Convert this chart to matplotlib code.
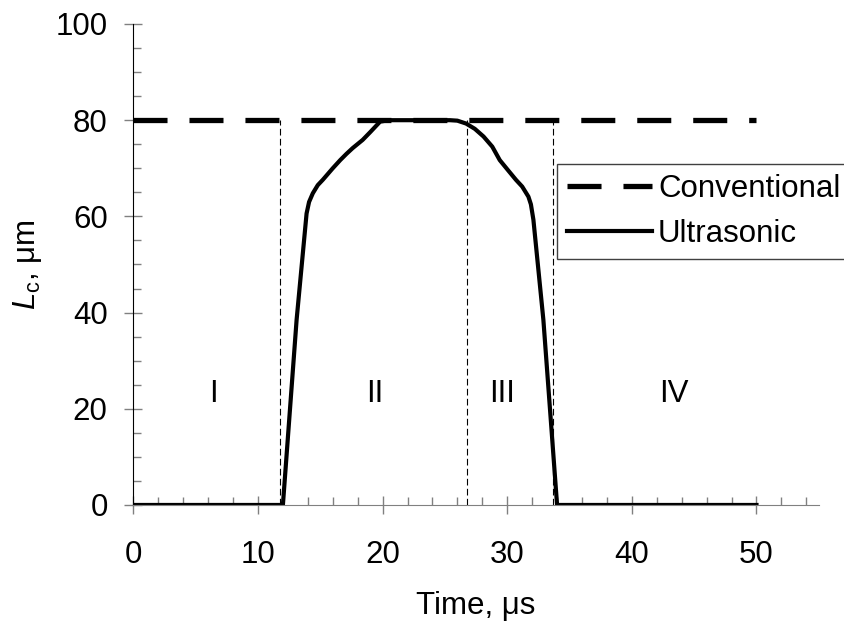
import matplotlib
matplotlib.use("Agg")
from matplotlib import pyplot as plt
from matplotlib.ticker import MultipleLocator

plt.rcParams['font.family'] = ['Liberation Sans', 'DejaVu Sans']
plt.rcParams['mathtext.fontset'] = 'custom'
plt.rcParams['mathtext.rm'] = 'Liberation Sans'
plt.rcParams['mathtext.it'] = 'Liberation Sans:italic'
plt.rcParams['lines.scale_dashes'] = False

# data
conv_t = [0, 50]
conv_l = [80, 80]

ultra_t = [0, 12.0, 13.1, 13.9, 14.1, 14.4, 14.8, 15.2, 16.0, 16.6, 17.1,
           17.6, 18.4, 19.0, 19.8, 20.5, 25.4, 26.0, 26.7, 27.4, 28.1,
           28.8, 29.4, 30.0, 30.7, 31.2, 31.7, 31.9, 32.1, 32.9, 34.0, 50]
ultra_l = [0, 0, 38.5, 60.6, 63.0, 64.8, 66.5, 67.6, 70.0, 71.7, 73.0,
           74.2, 75.9, 77.5, 79.7, 80, 80, 79.9, 79.3, 78.2, 76.6,
           74.5, 71.7, 69.8, 67.6, 66.2, 64.1, 62.5, 59.3, 38.5, 0, 0]

stage_bounds = [11.8, 26.8, 33.7]
stage_names = ["I", "II", "III", "IV"]
stage_x = [6.4, 19.4, 29.6, 43.4]
stage_y = 23

fs = 22.5
fig = plt.figure(figsize=(8.45, 6.28), dpi=100)
ax = fig.add_axes([0.1578, 0.1959, 0.969 - 0.1578, 0.9618 - 0.1959])

for xb in stage_bounds:
    ax.plot([xb, xb], [0, 80], color="k", lw=0.8, dashes=(4.8, 2.4))

ax.plot(conv_t, conv_l, color="k", lw=3.8, dashes=(24.5, 15.8),
        dash_capstyle="butt", label="Conventional")
ax.plot(ultra_t, ultra_l, color="k", lw=3.0, label="Ultrasonic",
        solid_joinstyle="round")

for name, xs in zip(stage_names, stage_x):
    ax.text(xs, stage_y, name, fontsize=fs, ha="center", va="center")

ax.set_xlim(0, 55)
ax.set_ylim(0, 100)
ax.xaxis.set_major_locator(MultipleLocator(10))
ax.xaxis.set_minor_locator(MultipleLocator(2))
ax.yaxis.set_major_locator(MultipleLocator(20))
ax.yaxis.set_minor_locator(MultipleLocator(5))
ax.tick_params(which="major", direction="inout", length=13, width=1,
               color="#808080", labelsize=fs)
ax.tick_params(which="minor", direction="in", length=6, width=1,
               color="#808080")
ax.tick_params(axis="x", which="major", pad=19)
ax.tick_params(axis="y", which="major", pad=12)

for s in ["top", "right"]:
    ax.spines[s].set_visible(False)
ax.spines["left"].set_color("k")
ax.spines["bottom"].set_color("#808080")

ax.set_xlabel("Time, μs", fontsize=fs, labelpad=15)
ax.set_ylabel(r"$L_{\rm c}$, μm", fontsize=fs, labelpad=8)

leg = ax.legend(loc="upper left", bbox_to_anchor=(557 / 845, 1 - 164 / 628),
                bbox_transform=fig.transFigure, borderaxespad=0,
                fontsize=fs, handlelength=2.7, handletextpad=0.2,
                borderpad=0.33, labelspacing=0.46, fancybox=False,
                framealpha=1, edgecolor="#404040")
leg.get_frame().set_linewidth(1)

fig.savefig("out.png", dpi=100)
